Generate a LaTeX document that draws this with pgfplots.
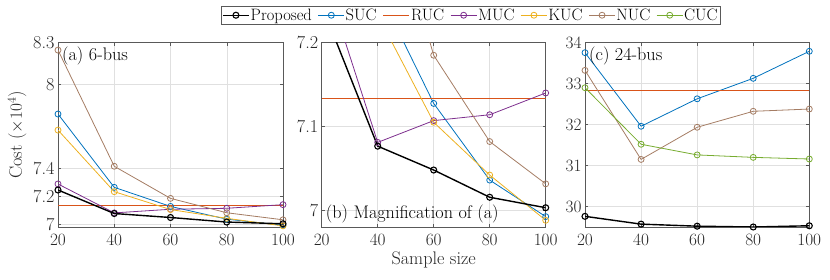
\documentclass[border=0pt]{standalone}
\usepackage{pgfplots}
\pgfplotsset{compat=1.18}
\definecolor{cP}{rgb}{0,0,0}
\definecolor{cS}{rgb}{0,0.447,0.741}
\definecolor{cR}{rgb}{0.85,0.325,0.098}
\definecolor{cM}{rgb}{0.494,0.184,0.556}
\definecolor{cK}{rgb}{0.929,0.694,0.125}
\definecolor{cN}{RGB}{165,125,100}
\definecolor{cC}{rgb}{0.466,0.674,0.188}
\newcommand{\fs}{\fontsize{18.2}{21}\selectfont}
\pgfplotsset{
  base/.style={
    scale only axis, height=184.3pt,
    xmin=20, xmax=100, xtick={20,40,60,80,100},
    grid=major, grid style={black!12, line width=0.5pt},
    axis line style={black!65, line width=0.5pt},
    tick style={black!65, line width=0.5pt},
    major tick length=3pt,
    tick align=inside,
    font=\fs,
    tick label style={font=\fs, black!85},
    xticklabel style={yshift=-3.5pt},
    label style={font=\fs, black!85},
    clip=true,
  },
  ln/.style={#1, line width=0.8pt, mark=o, mark size=3pt, mark options={solid, line width=0.8pt}},
  lp/.style={black, line width=1.4pt, mark=o, mark size=3pt, mark options={solid, line width=1.1pt}},
  lr/.style={cR, line width=1.4pt},
}
\begin{document}
\begin{tikzpicture}
\path[use as bounding box] (0pt,0pt) rectangle (830pt,280pt);
% ---------- (a)
\begin{axis}[base, at={(58pt,53pt)}, anchor=south west, width=225pt,
  ymin=6.98, ymax=8.3, ytick={7,7.2,7.4,8,8.3},
  yticklabels={7,7.2,7.4,8,8.3},
  ylabel={Cost ($\times 10^4$)}]
\addplot[ln=cS] coordinates {(20,7.789)(40,7.264)(60,7.1275)(80,7.036)(100,6.9924)};
\addplot[lr] coordinates {(20,7.1335)(100,7.1335)};
\addplot[ln=cM] coordinates {(20,7.288)(40,7.081)(60,7.107)(80,7.114)(100,7.140)};
\addplot[ln=cK] coordinates {(20,7.674)(40,7.233)(60,7.105)(80,7.042)(100,6.988)};
\addplot[ln=cN] coordinates {(20,8.247)(40,7.415)(60,7.185)(80,7.082)(100,7.0315)};
\addplot[lp] coordinates {(20,7.245)(40,7.0765)(60,7.048)(80,7.0155)(100,7.003)};
\node[anchor=north west, inner sep=4pt, font=\fs] at (rel axis cs:0,1) {(a) 6-bus};
\end{axis}
% ---------- (b)
\begin{axis}[base, at={(321.7pt,53pt)}, anchor=south west, width=224pt,
  ymin=6.98, ymax=7.2, ytick={7,7.1,7.2}, yticklabels={7,7.1,7.2},
  xlabel={Sample size},
  legend style={at={(0.664,1.149)}, anchor=center, legend columns=7,
    draw=black!65, line width=0.5pt, font=\fontsize{16.5}{18}\selectfont,
    inner sep=1.5pt,
    /tikz/every even column/.append style={column sep=5pt},
    nodes={inner sep=1pt}},
  legend image code/.code={\draw[mark repeat=2,mark phase=2,#1] plot coordinates {(0pt,0pt)(13pt,0pt)(26pt,0pt)};}
  ]
\addlegendimage{lp}\addlegendentry{Proposed}
\addlegendimage{ln=cS}\addlegendentry{SUC}
\addlegendimage{lr}\addlegendentry{RUC}
\addlegendimage{ln=cM}\addlegendentry{MUC}
\addlegendimage{ln=cK}\addlegendentry{KUC}
\addlegendimage{ln=cN}\addlegendentry{NUC}
\addlegendimage{ln=cC}\addlegendentry{CUC}
\addplot[ln=cS, forget plot] coordinates {(20,7.789)(40,7.264)(60,7.1275)(80,7.036)(100,6.9924)};
\addplot[lr, forget plot] coordinates {(20,7.1335)(100,7.1335)};
\addplot[ln=cM, forget plot] coordinates {(20,7.288)(40,7.081)(60,7.107)(80,7.114)(100,7.140)};
\addplot[ln=cK, forget plot] coordinates {(20,7.674)(40,7.233)(60,7.105)(80,7.042)(100,6.988)};
\addplot[ln=cN, forget plot] coordinates {(20,8.247)(40,7.415)(60,7.185)(80,7.082)(100,7.0315)};
\addplot[lp, forget plot] coordinates {(20,7.245)(40,7.0765)(60,7.048)(80,7.0155)(100,7.003)};
\node[anchor=south west, inner sep=4pt, font=\fs] at (rel axis cs:0,0) {(b) Magnification of (a)};
\end{axis}
% ---------- (c)
\begin{axis}[base, at={(585pt,53pt)}, anchor=south west, width=224.3pt,
  ymin=29.5, ymax=34, ytick={30,31,32,33,34}]
\addplot[ln=cS] coordinates {(20,33.756)(40,31.96)(60,32.63)(80,33.13)(100,33.79)};
\addplot[lr] coordinates {(20,32.83)(100,32.83)};
\addplot[ln=cN] coordinates {(20,33.325)(40,31.15)(60,31.935)(80,32.325)(100,32.38)};
\addplot[ln=cC] coordinates {(20,32.9)(40,31.52)(60,31.26)(80,31.20)(100,31.16)};
\addplot[lp] coordinates {(20,29.76)(40,29.57)(60,29.52)(80,29.50)(100,29.53)};
\node[anchor=north west, inner sep=4pt, font=\fs] at (rel axis cs:0,1) {(c) 24-bus};
\end{axis}
\end{tikzpicture}
\end{document}
